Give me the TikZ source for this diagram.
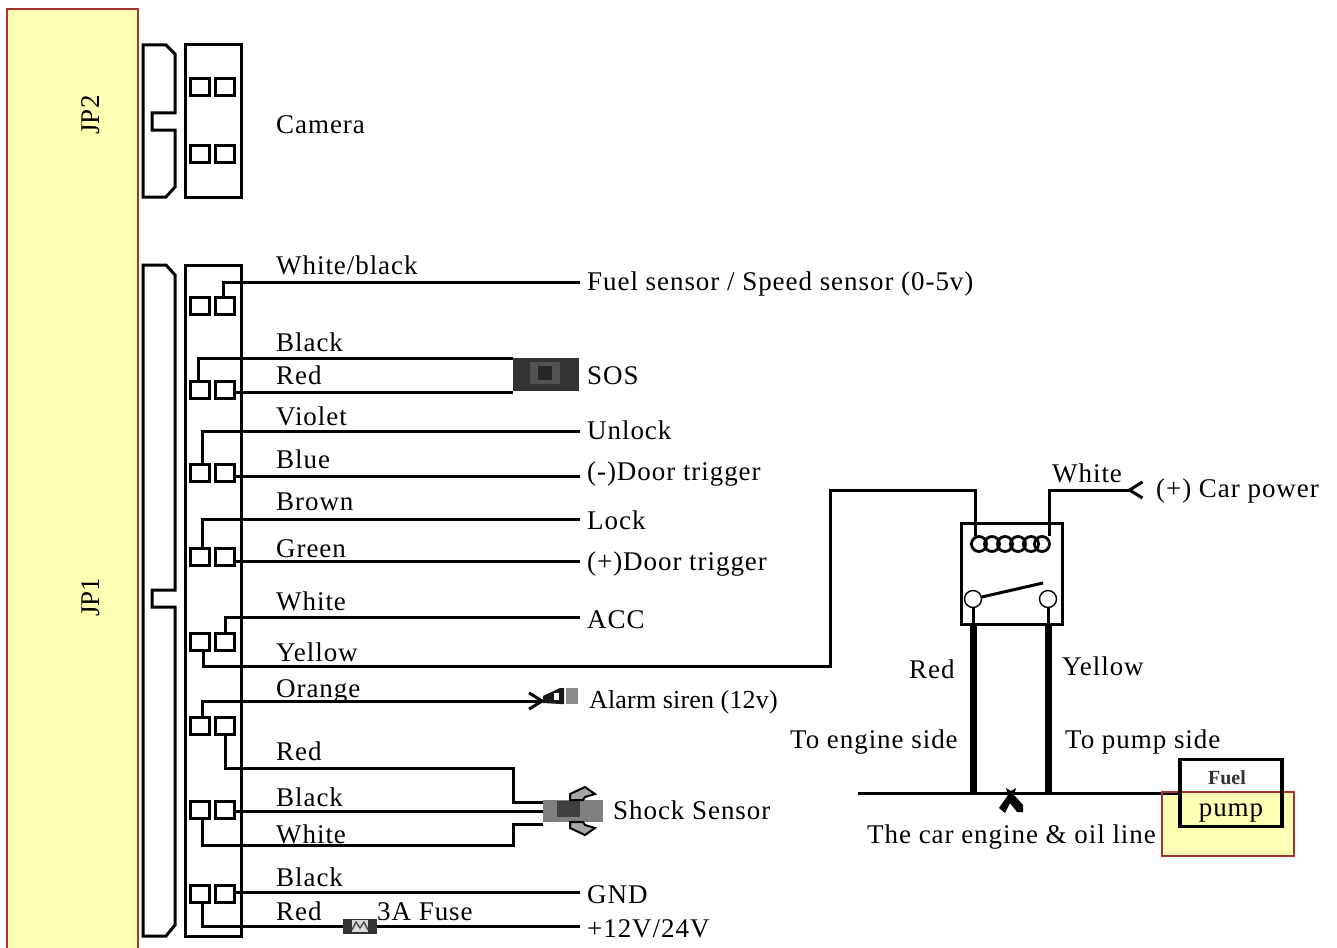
\documentclass[tikz,border=0pt]{standalone}
\usepackage{fontspec}
\setmainfont{Liberation Serif}
\usetikzlibrary{arrows.meta}
\definecolor{padyellow}{HTML}{FFFFB3}
\definecolor{padred}{HTML}{A83232}
\tikzset{
    lbl/.style={anchor=west,inner xsep=7pt,inner ysep=0pt,text height=#1,text depth=6pt,
        font=\fontsize{27}{30}\selectfont\addfontfeature{LetterSpace=3.5}},
    lbl/.default=18pt,
    pin/.style={draw,line width=3pt,minimum width=19pt,minimum height=17pt,inner sep=0pt},
    wire/.style={line width=3pt},
    coilturn/.style={draw,circle,line width=2.8pt,minimum size=15pt,inner sep=0pt},
    contact/.style={draw,circle,fill=white,line width=1.4pt,minimum size=17pt,inner sep=0pt},
    tube/.style={line width=7pt},
}
\begin{document}
\begin{tikzpicture}[x=1pt,y=-1pt]
    \useasboundingbox (0,0) rectangle (1337,947);
    \draw[padred,fill=padyellow,line width=1.4pt] (7,9) rectangle (138,960);
    \node[rotate=90,font=\fontsize{27}{30}\selectfont] (jptwo) at (91,115) {JP2};
    \node[rotate=90,font=\fontsize{27}{30}\selectfont] (jpone) at (91,597) {JP1};

    \draw[wire] (143,45)--(166,45)--(175,54)--(175,113)--(152,113)--(152,130)--(175,130)--(175,187)--(166,197)--(143,197)--cycle;
    \draw[wire] (143,265)--(166,265)--(175,275)--(175,590)--(152,590)--(152,607)--(175,607)--(175,925)--(166,936)--(143,936)--cycle;
    \draw[wire] (185,45) rectangle (241,197);
    \draw[wire] (185,265) rectangle (241,936);

    \node[pin] (cama) at (200,87) {};
    \node[pin] (camb) at (225,87) {};
    \node[pin] (camc) at (200,154) {};
    \node[pin] (camd) at (225,154) {};
    \node[pin] (pina) at (200,306) {};
    \node[pin] (pinb) at (225,306) {};
    \node[pin] (pinc) at (200,390) {};
    \node[pin] (pind) at (225,390) {};
    \node[pin] (pine) at (200,473) {};
    \node[pin] (pinf) at (225,473) {};
    \node[pin] (ping) at (200,557) {};
    \node[pin] (pinh) at (225,557) {};
    \node[pin] (pini) at (200,642) {};
    \node[pin] (pinj) at (225,642) {};
    \node[pin] (pink) at (200,726) {};
    \node[pin] (pinl) at (225,726) {};
    \node[pin] (pinm) at (200,810) {};
    \node[pin] (pinn) at (225,810) {};
    \node[pin] (pino) at (200,894) {};
    \node[pin] (pinp) at (225,894) {};

    \node[lbl,inner xsep=0pt] (camera) at (276,127) {Camera};
    \node[lbl,inner xsep=0pt] (whiteblack) at (276,268) {White/black};
    \node[lbl,inner xsep=0pt] (blackone) at (276,345) {Black};
    \node[lbl,inner xsep=0pt] (redone) at (276,378) {Red};
    \node[lbl,inner xsep=0pt] (violet) at (276,419) {Violet};
    \node[lbl,inner xsep=0pt] (blue) at (276,462) {Blue};
    \node[lbl,inner xsep=0pt] (brown) at (276,504) {Brown};
    \node[lbl,inner xsep=0pt] (green) at (276,551) {Green};
    \node[lbl,inner xsep=0pt] (whiteone) at (276,604) {White};
    \node[lbl,inner xsep=0pt] (yellowone) at (276,655) {Yellow};
    \node[lbl,inner xsep=0pt] (orange) at (276,691) {Orange};
    \node[lbl,inner xsep=0pt] (redtwo) at (276,754) {Red};
    \node[lbl,inner xsep=0pt] (blacktwo) at (276,800) {Black};
    \node[lbl,inner xsep=0pt] (whitetwo) at (276,837) {White};
    \node[lbl,inner xsep=0pt] (blackthree) at (276,880) {Black};
    \node[lbl,inner xsep=0pt] (redthree) at (276,914) {Red};
    \node[lbl,inner xsep=0pt] (fusetext) at (377,914) {3A Fuse};

    \node[lbl=23pt] (fuelsensor) at (580,282) {Fuel sensor / Speed sensor (0-5v)};
    \node[lbl,inner xsep=0pt] (sos) at (587,378) {SOS};
    \node[lbl=22pt] (unlock) at (580,431) {Unlock};
    \node[lbl=14pt] (doorneg) at (580,476) {(-)Door trigger};
    \node[lbl=26pt] (lock) at (580,519) {Lock};
    \node[lbl=24pt] (doorpos) at (580,561) {(+)Door trigger};
    \node[lbl=28pt] (acc) at (580,617) {ACC};
    \node[lbl=28pt] (gnd) at (580,892) {GND};
    \node[lbl=28pt] (power) at (580,926) {+12V/24V};
    \node[lbl,inner xsep=0pt,font=\fontsize{26}{30}\selectfont\addfontfeature{LetterSpace=.6}] (siren) at (589,702) {Alarm siren (12v)};
    \node[lbl,inner xsep=0pt] (shocktext) at (613,813) {Shock Sensor};

    \node[fill=black!80,minimum width=66pt,minimum height=33pt,inner sep=0pt] (sosswitch) at (546,374) {};
    \fill[black!68] (530,362) rectangle (560,384);
    \fill[black!85] (538,366) rectangle (552,380);
    \node[fill=black!80,minimum width=34pt,minimum height=15pt,inner sep=0pt] (fuse) at (360,926) {};
    \fill[black!15] (352,920) rectangle (368,932);
    \draw[black!70,line width=1.4pt] (352,930)--(356,922)--(360,928)--(364,922)--(368,930);
    \node[fill=black!50,minimum width=60pt,minimum height=22pt,inner sep=0pt] (shock) at (573,811) {};
    \fill[black!75] (557,801) rectangle (580,817);
    \draw[line width=2pt,fill=black!35] (570,800)--(570,794)--(585,787)--(595,794)--(585,797)--(583,800)--cycle;
    \draw[line width=2pt,fill=black!35] (570,822)--(570,828)--(585,835)--(595,828)--(585,825)--(583,822)--cycle;
    \coordinate (sirentip) at (545,701);
    \fill[black!90] (543,696)--(560,688)--(564,688)--(564,704)--(560,704)--(543,703)--cycle;
    \fill[black!45] (566,688) rectangle (578,704);
    \fill[white] (554,693) rectangle (559,700);

    \draw[wire] ([xshift=-2pt]pinb.north)|-(fuelsensor.west);
    \draw[wire] ([xshift=-2pt]pinc.north)|-([yshift=16pt]sosswitch.west);
    \draw[wire] (pind.east|-0,392)--(513,392);
    \draw[wire] ([xshift=2pt]pine.north)|-(unlock.west);
    \draw[wire] (pinf.east|-doorneg.west)--(doorneg.west);
    \draw[wire] ([xshift=2pt]ping.north)|-(lock.west);
    \draw[wire] (pinh.east|-doorpos.west)--(doorpos.west);
    \draw[wire] (pinj.north)|-(acc.west);
    \draw[wire,-{Straight Barb[length=13pt,width=16pt,line width=3pt]}] ([xshift=2pt]pink.north)|-(sirentip);
    \draw[wire] (pinl.south)|-(513,768)--(513,802)--([yshift=9pt]shock.west);
    \draw[wire] (pinn.east|-shock.west)--(shock.west);
    \draw[wire] ([xshift=2pt]pinm.south)|-(513,845)--(513,824)--([yshift=-13pt]shock.west);
    \draw[wire] (pinp.east|-gnd.west)--(gnd.west);
    \draw[wire] ([xshift=2pt]pino.south)|-(fuse.west);
    \draw[wire] (fuse.east)--(power.west);

    \draw[wire] (961,523) rectangle (1062,624);
    \node[coilturn] (coila) at (979,544) {};
    \node[coilturn] (coilb) at (992,544) {};
    \node[coilturn] (coilc) at (1005,544) {};
    \node[coilturn] (coild) at (1018,544) {};
    \node[coilturn] (coile) at (1031,544) {};
    \node[coilturn] (coilf) at (1042,544) {};
    \node[contact] (contacta) at (973,599) {};
    \node[contact] (contactb) at (1048,599) {};
    \coordinate (armtip) at (1043,583);
    \draw[wire] (contacta)--(armtip);
    \coordinate (powertip) at (1144,490);
    \node[lbl,inner xsep=0pt] (carpower) at (1156,491) {(+) Car power};
    \node[lbl,inner xsep=0pt] (whitethree) at (1052,476) {White};
    \draw[wire] (pini.south-|203,0)|-(830,666)|-(975,490)--(975,536);
    \draw[wire,-{Straight Barb[reversed,length=13pt,width=16pt,line width=3pt]}] (1049,536)|-(powertip);

    \fill[padyellow] (1162,792) rectangle (1294,856);
    \coordinate (lineend) at (858,793);
    \draw[wire] (lineend)--(1180,793);
    \draw[padred,line width=1.4pt] (1162,792) rectangle (1294,856);
    \node[draw,line width=3.4pt,minimum width=102pt,minimum height=67pt,inner sep=0pt] (pumpbox) at (1231,793) {};
    \node[font=\fontsize{20}{24}\selectfont\bfseries,text=black!80] (fueltext) at (1227,778) {Fuel};
    \node[font=\fontsize{27}{30}\selectfont\addfontfeature{LetterSpace=3.5}] (pumptext) at (1231,813) {pump};
    \draw[tube] (973,624)--(973,795);
    \draw[tube] (1048,624)--(1048,795);
    \draw[wire] (contacta.south)--(contacta.south|-0,624);
    \draw[wire] (contactb.south)--(contactb.south|-0,624);
    \fill (1006,788)--(1011,791)--(1016,788)--(1014,795)--(1023,805)--(1023,812)--(1017,812)--(1010,803)--(1005,813)--(999,808)--(1008,795)--cycle;

    \node[lbl,inner xsep=0pt] (redfour) at (909,672) {Red};
    \node[lbl,inner xsep=0pt] (yellowtwo) at (1062,669) {Yellow};
    \node[lbl,inner xsep=0pt] (engineside) at (790,742) {To engine side};
    \node[lbl,inner xsep=0pt] (pumpside) at (1065,742) {To pump side};
    \node[lbl,inner xsep=0pt] (oilline) at (867,837) {The car engine \& oil line};
\end{tikzpicture}
\end{document}
